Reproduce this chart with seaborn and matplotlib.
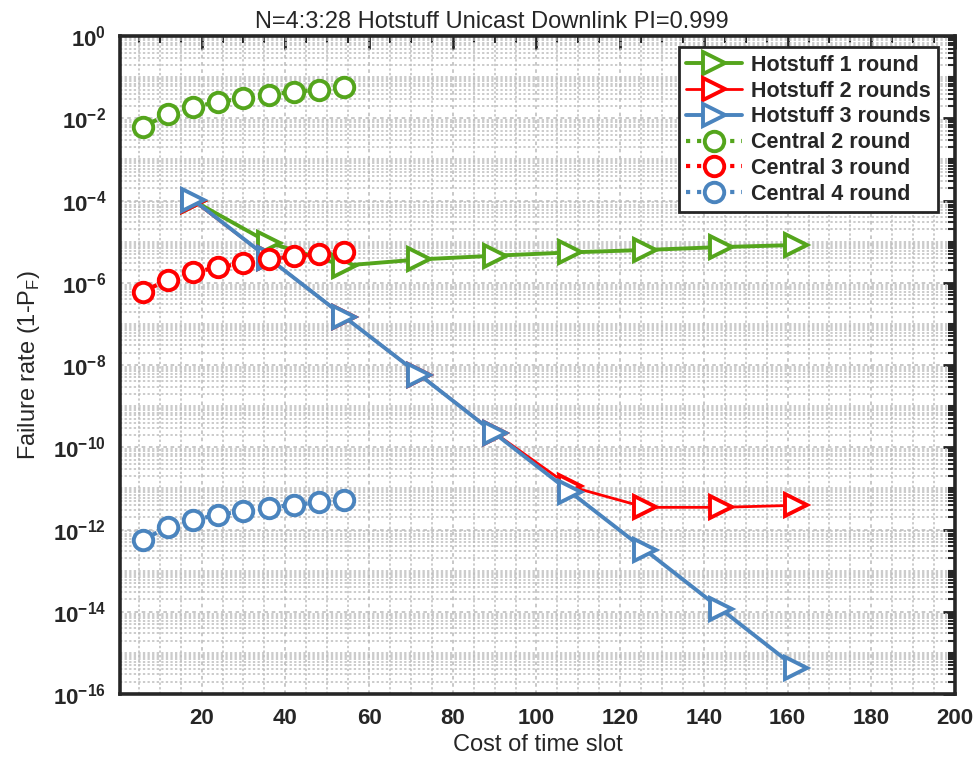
import numpy as np
import pandas as pd
import matplotlib
matplotlib.use("Agg")
import matplotlib.pyplot as plt
import matplotlib.ticker as mticker
import seaborn as sns

# ---- data ----
hot_x = [18, 36, 54, 72, 90, 108, 126, 144, 162]
hot1_exp = [-4.00, -5.02, -5.58, -5.43, -5.34, -5.26, -5.20, -5.13, -5.08]
hot2_exp = [-4.00, -5.40, -6.82, -8.23, -9.65, -10.95, -11.46, -11.46, -11.41]
hot3_exp = [-3.98, -5.40, -6.82, -8.23, -9.66, -11.08, -12.50, -13.93, -15.36]
hot1 = [10 ** e for e in hot1_exp]
hot2 = [10 ** e for e in hot2_exp]
hot3 = [10 ** e for e in hot3_exp]

cen_x = [6, 12, 18, 24, 30, 36, 42, 48, 54]
cen2 = [6.3e-3, 1.26e-2, 1.9e-2, 2.5e-2, 3.1e-2, 3.8e-2, 4.4e-2, 5.0e-2, 5.7e-2]
cen3 = [6.1e-7, 1.2e-6, 1.8e-6, 2.4e-6, 3.0e-6, 3.8e-6, 4.4e-6, 5.0e-6, 5.7e-6]
cen4 = [5.7e-13, 1.15e-12, 1.7e-12, 2.3e-12, 2.8e-12, 3.4e-12, 4.0e-12, 4.6e-12, 5.1e-12]

labels = ["Hotstuff 1 round", "Hotstuff 2 rounds", "Hotstuff 3 rounds",
          "Central 2 round", "Central 3 round", "Central 4 round"]

GREEN = "#54A51C"
RED = "#FF0000"
BLUE = "#4A84BE"

sns.set_style("white")
plt.rcParams["font.family"] = ["Liberation Sans", "DejaVu Sans"]
plt.rcParams["mathtext.fontset"] = "custom"
plt.rcParams["mathtext.rm"] = "Liberation Sans"
plt.rcParams["mathtext.bf"] = "Liberation Sans:bold"

fig = plt.figure(figsize=(9.79, 7.69), dpi=100)
ax = fig.add_axes([0.1226, 0.0975, 0.8529, 0.8555])

series = [
    (hot_x, hot1, GREEN, "-", ">", labels[0]),
    (hot_x, hot2, RED, "-", ">", labels[1]),
    (hot_x, hot3, BLUE, "-", ">", labels[2]),
    (cen_x, cen2, GREEN, ":", "o", labels[3]),
    (cen_x, cen3, RED, ":", "o", labels[4]),
    (cen_x, cen4, BLUE, ":", "o", labels[5]),
]
for xs, ys, col, ls, mk, lab in series:
    df = pd.DataFrame({"x": xs, "y": ys})
    lw = 2.8 if mk == ">" else 3.0
    ms = 15.5 if mk == ">" else 14
    if lab == labels[1]:
        lw = 2.0
    sns.lineplot(data=df, x="x", y="y", ax=ax, color=col, linestyle=ls,
                 linewidth=lw, marker=mk, markersize=ms,
                 markerfacecolor="white", markeredgecolor=col,
                 markeredgewidth=2.8, label=lab, estimator=None, sort=False)

ax.set_yscale("log")
ax.set_xlim(0.5, 200)
ax.set_ylim(1e-16, 1)

ax.xaxis.set_major_locator(mticker.MultipleLocator(20))
ax.xaxis.set_minor_locator(mticker.MultipleLocator(5))
major_y = [10.0 ** k for k in range(-16, 1, 2)]
ax.yaxis.set_major_locator(mticker.FixedLocator(major_y))
minor_y = [m * 10.0 ** k for k in range(-16, 0) for m in range(1, 10)]
minor_y = [v for v in minor_y if not any(abs(v / mv - 1) < 1e-9 for mv in major_y)]
ax.yaxis.set_minor_locator(mticker.FixedLocator(minor_y))
ax.yaxis.set_minor_formatter(mticker.NullFormatter())
ax.yaxis.set_major_formatter(mticker.FuncFormatter(
    lambda v, p: r"$\mathbf{10^{%d}}$" % int(round(np.log10(v)))))
ax.xaxis.set_major_formatter(mticker.FuncFormatter(lambda v, p: "%d" % v))

ax.tick_params(which="both", direction="in", top=True, right=True, colors="#262626")
ax.tick_params(which="major", length=9, width=2.0, labelsize=16, pad=10)
ax.tick_params(which="minor", length=5, width=1.5)
for t in ax.get_xticklabels():
    t.set_fontweight("bold")

for s in ax.spines.values():
    s.set_linewidth(2.6)
    s.set_color("#262626")

ax.grid(which="major", linestyle=(0, (2, 2)), color="#c4c4c4", linewidth=1.3)
ax.grid(which="minor", linestyle=(0, (1.5, 1.5)), color="#bdbdbd", linewidth=1.1)
ax.set_axisbelow(True)

ax.set_xlabel("Cost of time slot", fontsize=17, color="#262626", labelpad=4)
ax.set_ylabel(r"Failure rate (1-P$_{\mathregular{F}}$)", fontsize=17,
              color="#262626", labelpad=8)
ax.set_title("N=4:3:28 Hotstuff Unicast Downlink PI=0.999", fontsize=17,
             color="#262626", pad=6, x=0.445)

leg = ax.legend(loc="upper right", bbox_to_anchor=(0.98, 0.983), frameon=True,
                fancybox=False, edgecolor="#262626", framealpha=1,
                prop={"weight": "bold", "size": 15.5}, handlelength=2.6,
                handletextpad=0.4, labelspacing=0.22, borderpad=0.35,
                borderaxespad=0.0)
leg.get_frame().set_linewidth(2.0)

fig.savefig("out.png", dpi=100)
